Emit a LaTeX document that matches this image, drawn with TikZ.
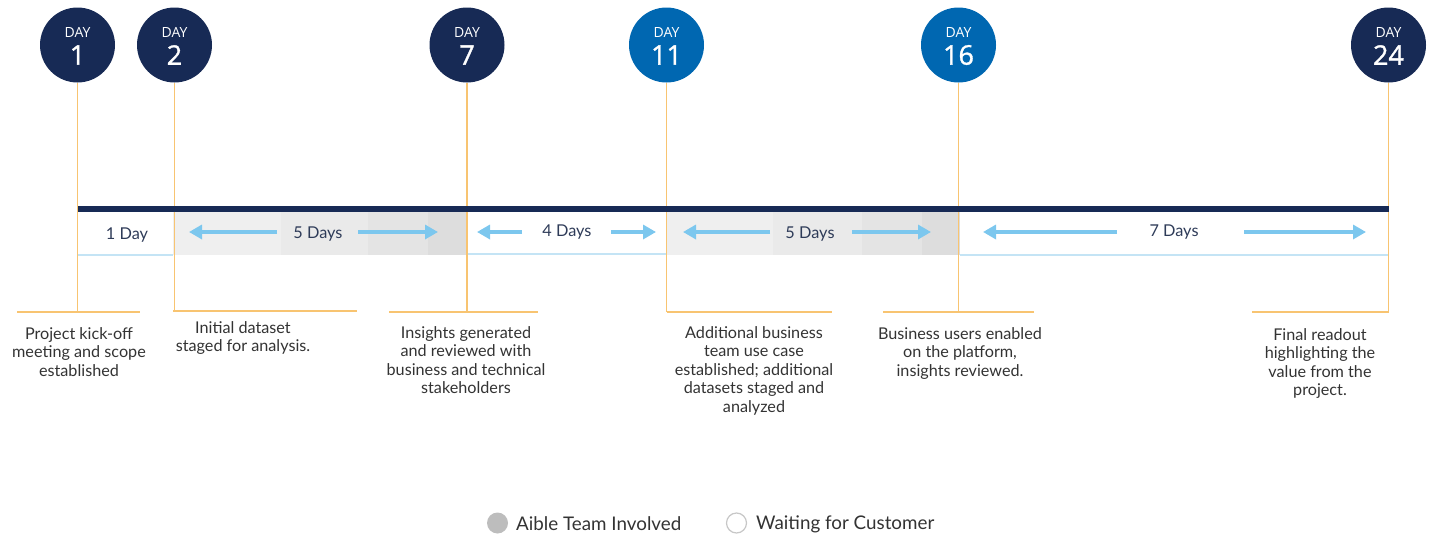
\documentclass[tikz,border=0pt]{standalone}
\usepackage{fontspec}
\setmainfont{Lato}
\newfontfamily\circfont{Open Sans}
\newfontfamily\circfontb{Open Sans}[FakeBold=1.2]
\usetikzlibrary{arrows.meta}
\definecolor{navy}{HTML}{172A55}
\definecolor{dayblue}{HTML}{0067B1}
\definecolor{orng}{HTML}{F8C471}
\definecolor{arrowblue}{HTML}{7CC7EE}
\definecolor{lineblue}{HTML}{C4E4F5}
\definecolor{txt}{HTML}{333333}
\definecolor{bartxt}{HTML}{2E3B58}
\definecolor{gA}{HTML}{EFEFEF}
\definecolor{gB}{HTML}{EAEAEA}
\definecolor{gC}{HTML}{E4E4E4}
\definecolor{gD}{HTML}{DDDDDD}
\tikzset{
  daycirc/.style={circle, minimum size=75pt, inner sep=0pt},
  daylbl/.style={text=white, font=\circfont\fontsize{14}{14}\selectfont, inner sep=0pt},
  daynum/.style={text=white, font=\circfontb\fontsize{27}{27}\selectfont, inner sep=0pt},
  orngline/.style={draw=orng, line width=1.8pt},
  desc/.style={text=txt, font=\fontsize{16.2}{18.5}\selectfont, align=center, inner sep=0pt, anchor=north},
  barlbl/.style={text=bartxt, font=\fontsize{16.3}{16}\selectfont, inner sep=0pt},
  barrow/.style={draw=arrowblue, line width=4.5pt, -{Triangle[length=13pt,width=14pt]}},
  legtxt/.style={text=txt, font=\fontsize{18.8}{19}\selectfont, inner sep=0pt, anchor=west}
}
\begin{document}
\begin{tikzpicture}[x=1pt,y=-1pt]
\useasboundingbox (0,0) rectangle (1429,533);
% bands
\fill[gA] (173,212) rectangle (281,255);
\fill[gB] (281,212) rectangle (368,255);
\fill[gC] (368,212) rectangle (428,255);
\fill[gD] (428,212) rectangle (467,255);
\fill[gA] (667,212) rectangle (773,255);
\fill[gB] (773,212) rectangle (862,255);
\fill[gC] (862,212) rectangle (922,255);
\fill[gD] (922,212) rectangle (960,255);
\draw[lineblue, line width=1.3pt] (78,255) -- (173,255);
\draw[lineblue, line width=1.3pt] (467,254) -- (667,254);
\draw[lineblue, line width=1.3pt] (960,255) -- (1388,255);
% circles
\foreach \x/\n/\c in {77.5/1/navy,174.5/2/navy,467/7/navy,666.5/11/dayblue,958.5/16/dayblue,1388.5/24/navy}{
  \node[daycirc, fill=\c] (d\n) at (\x,45) {};
  \node[daylbl] (d\n a) at (\x,32) {DAY};
  \node[daynum] (d\n b) at (\x,55) {\n};
  \coordinate (v\n) at (\x,312);
  \draw[orngline] (d\n) -- (v\n);
}
% horizontal orange lines
\coordinate (h1l) at (17,312);   \coordinate (h1r) at (140,312);
\coordinate (h2l) at (173,311);  \coordinate (h2r) at (357,311);
\coordinate (h7l) at (389,312);  \coordinate (h7r) at (538,312);
\coordinate (h11l) at (667,312); \coordinate (h11r) at (832,312);
\coordinate (h16l) at (883,312); \coordinate (h16r) at (1034,312);
\coordinate (h24l) at (1252,312); \coordinate (h24r) at (1388.5,312);
\foreach \n in {1,2,7,11,16,24}{\draw[orngline] (h\n l) -- (h\n r);}
% navy bar
\draw[navy, line width=6.5pt] (78,209) -- (1388.5,209);
% bar labels
\node[barlbl] (l1) at (127,235) {1 Day};
\node[barlbl] (l2) at (318,234) {5 Days};
\node[barlbl] (l3) at (567,232) {4 Days};
\node[barlbl] (l4) at (810,234) {5 Days};
\node[barlbl] (l5) at (1174,232) {7 Days};
% arrows
\coordinate (a1s) at (277,232); \coordinate (a1t) at (189,232);
\coordinate (a2s) at (358,232); \coordinate (a2t) at (438,232);
\coordinate (a3s) at (522,232); \coordinate (a3t) at (477,232);
\coordinate (a4s) at (611,232); \coordinate (a4t) at (656,232);
\coordinate (a5s) at (770,232); \coordinate (a5t) at (683,232);
\coordinate (a6s) at (852,232); \coordinate (a6t) at (931,232);
\coordinate (a7s) at (1117,232); \coordinate (a7t) at (983,232);
\coordinate (a8s) at (1244,232); \coordinate (a8t) at (1366,232);
\foreach \i in {1,...,8}{\draw[barrow] (a\i s) -- (a\i t);}
% descriptions
\node[desc] (t1) at (79,327) {Project kick-off\\meeting and scope\\established};
\node[desc] (t2) at (243,321) {Initial dataset\\staged for analysis.};
\node[desc] (t7) at (466,326) {Insights generated\\and reviewed with\\business and technical\\stakeholders};
\node[desc] (t11) at (754,326) {Additional business\\team use case\\established; additional\\datasets staged and\\analyzed};
\node[desc] (t16) at (960,327) {Business users enabled\\on the platform,\\insights reviewed.};
\node[desc] (t24) at (1320,328) {Final readout\\highlighting the\\value from the\\project.};
% legend
\node[circle, fill=black!26, minimum size=21pt, inner sep=0pt] (lg1) at (497.5,523) {};
\node[legtxt] (lt1) at (516,524) {Aible Team Involved};
\node[circle, draw=black!22, line width=1.2pt, fill=white, minimum size=20pt, inner sep=0pt] (lg2) at (736.5,523) {};
\node[legtxt] (lt2) at (756,524) {Waiting for Customer};
\end{tikzpicture}
\end{document}
